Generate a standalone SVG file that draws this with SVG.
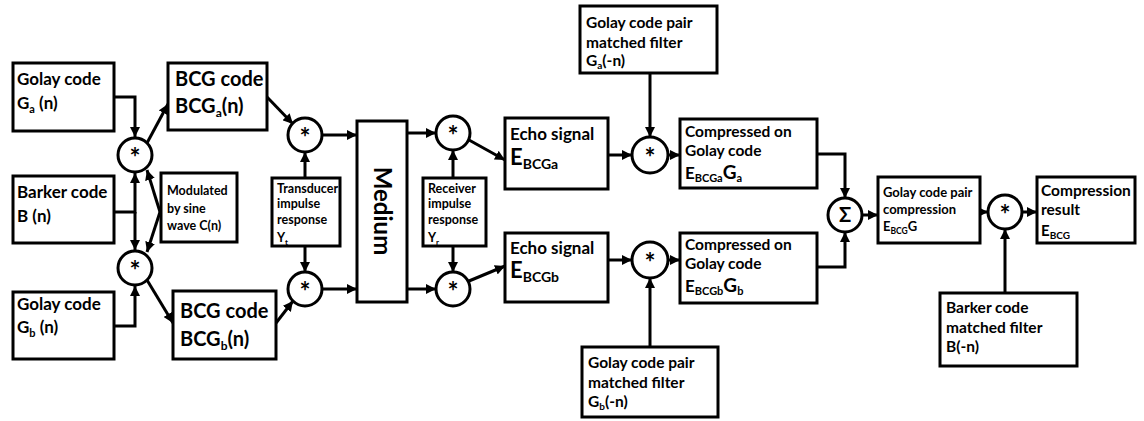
<svg xmlns="http://www.w3.org/2000/svg" width="1144" height="421" viewBox="0 0 1144 421">
  <defs>
    <style>
      .box { fill: #fff; stroke: #000; stroke-width: 3; }
      .op { fill: #fff; stroke: #000; stroke-width: 3; }
      .wire { fill: none; stroke: #000; stroke-width: 3; marker-end: url(#ah); }
      text { font-family: Lato, "Open Sans", "Liberation Sans", sans-serif; font-weight: bold; fill: #000; }
      .l { font-size: 17px; }
      .xl { font-size: 20px; }
      .s { font-size: 12.5px; }
      .m { font-size: 15.5px; }
      .sym { font-size: 26px; text-anchor: middle; }
    </style>
    <marker id="ah" viewBox="0 0 10 10" refX="10" refY="5" markerWidth="10" markerHeight="10" markerUnits="userSpaceOnUse" orient="auto">
      <path d="M0,0 L10,5 L0,10 z" fill="#000"/>
    </marker>
  </defs>
  <rect width="1144" height="421" fill="#fff"/>

  <!-- connectors -->
  <g id="connectors">
    <path class="wire" d="M114,97 H135 V137"/>
    <path class="wire" d="M114,212 H135 V173"/>
    <path class="wire" d="M135,212 V250"/>
    <path class="wire" d="M114,326 H135 V286"/>
    <path class="wire" d="M160,212 L147,170"/>
    <path class="wire" d="M160,212 L147,252"/>
    <path class="wire" d="M147,143 L168,104"/>
    <path class="wire" d="M147,280 L173,323"/>
    <path class="wire" d="M267,97 L293,124"/>
    <path class="wire" d="M276,323 L293,301"/>
    <path class="wire" d="M305,178 V152"/>
    <path class="wire" d="M305,246 V272"/>
    <path class="wire" d="M322,135 H357"/>
    <path class="wire" d="M322,289 H357"/>
    <path class="wire" d="M407,133 H436"/>
    <path class="wire" d="M407,289 H436"/>
    <path class="wire" d="M453,178 V150"/>
    <path class="wire" d="M453,246 V272"/>
    <path class="wire" d="M469,140 L505,160"/>
    <path class="wire" d="M469,281 L505,266"/>
    <path class="wire" d="M608,155 H632"/>
    <path class="wire" d="M650,73 V137"/>
    <path class="wire" d="M668,155 H680"/>
    <path class="wire" d="M608,260 H632"/>
    <path class="wire" d="M650,347 V278"/>
    <path class="wire" d="M668,260 H680"/>
    <path class="wire" d="M817,154 H845 V198"/>
    <path class="wire" d="M817,267 H845 V232"/>
    <path class="wire" d="M862,215 H878"/>
    <path class="wire" d="M980,212 H988"/>
    <path class="wire" d="M1022,212 H1037"/>
    <path class="wire" d="M1005,293 V229"/>
  </g>

  <!-- source codes -->
  <g id="golay-a">
    <rect class="box" x="13" y="63" width="101" height="68"/>
    <text class="l" x="17" y="85">Golay code</text>
    <text class="l" x="17" y="109">G<tspan font-size="11" dy="4">a</tspan><tspan dy="-4"> (n)</tspan></text>
  </g>
  <g id="barker">
    <rect class="box" x="13" y="176" width="101" height="67"/>
    <text class="l" x="17" y="198">Barker code</text>
    <text class="l" x="17" y="222">B (n)</text>
  </g>
  <g id="golay-b">
    <rect class="box" x="13" y="292" width="101" height="67"/>
    <text class="l" x="17" y="310">Golay code</text>
    <text class="l" x="17" y="333">G<tspan font-size="11" dy="4">b</tspan><tspan dy="-4"> (n)</tspan></text>
  </g>
  <g id="modulation">
    <rect class="box" x="161" y="173" width="76" height="69"/>
    <text class="s" x="167" y="195">Modulated</text>
    <text class="s" x="167" y="213">by sine</text>
    <text class="s" x="167" y="230">wave C(n)</text>
  </g>

  <!-- mixers -->
  <g id="mix-a"><circle class="op" cx="135" cy="155" r="17"/><text class="sym" x="135" y="167">*</text></g>
  <g id="mix-b"><circle class="op" cx="135" cy="268" r="17"/><text class="sym" x="135" y="280">*</text></g>

  <!-- BCG codes -->
  <g id="bcg-a">
    <rect class="box" x="168" y="63" width="99" height="67"/>
    <text class="xl" x="175" y="86">BCG code</text>
    <text class="xl" x="175" y="113">BCG<tspan font-size="12" dy="4">a</tspan><tspan dy="-4">(n)</tspan></text>
  </g>
  <g id="bcg-b">
    <rect class="box" x="173" y="291" width="103" height="68"/>
    <text class="xl" x="180" y="318">BCG code</text>
    <text class="xl" x="180" y="346">BCG<tspan font-size="12" dy="4">b</tspan><tspan dy="-4">(n)</tspan></text>
  </g>

  <!-- transmit side -->
  <g id="tx-a"><circle class="op" cx="305" cy="135" r="17"/><text class="sym" x="305" y="147">*</text></g>
  <g id="tx-b"><circle class="op" cx="305" cy="289" r="17"/><text class="sym" x="305" y="301">*</text></g>
  <g id="transducer">
    <rect class="box" x="272" y="178" width="68" height="68"/>
    <text class="s" x="277" y="193">Transducer</text>
    <text class="s" x="277" y="208">impulse</text>
    <text class="s" x="277" y="224">response</text>
    <text class="s" x="277" y="242">Y<tspan font-size="8" dy="3">t</tspan></text>
  </g>

  <g id="medium">
    <rect class="box" x="357" y="121" width="50" height="181"/>
    <text x="382" y="211" font-size="24" text-anchor="middle" transform="rotate(90 382 211)" dy="8">Medium</text>
  </g>

  <!-- receive side -->
  <g id="rx-a"><circle class="op" cx="453" cy="133" r="17"/><text class="sym" x="453" y="145">*</text></g>
  <g id="rx-b"><circle class="op" cx="453" cy="289" r="17"/><text class="sym" x="453" y="301">*</text></g>
  <g id="receiver">
    <rect class="box" x="423" y="178" width="63" height="68"/>
    <text class="s" x="428" y="193">Receiver</text>
    <text class="s" x="428" y="208">impulse</text>
    <text class="s" x="428" y="224">response</text>
    <text class="s" x="428" y="242">Y<tspan font-size="8" dy="3">r</tspan></text>
  </g>

  <g id="echo-a">
    <rect class="box" x="505" y="118" width="103" height="71"/>
    <text class="l" x="510" y="140">Echo signal</text>
    <text x="510" y="165" font-size="22">E<tspan font-size="14" dy="4">BCGa</tspan></text>
  </g>
  <g id="echo-b">
    <rect class="box" x="505" y="233" width="103" height="69"/>
    <text class="l" x="510" y="254">Echo signal</text>
    <text x="510" y="278" font-size="22">E<tspan font-size="14" dy="4">BCGb</tspan></text>
  </g>

  <!-- Golay matched filtering -->
  <g id="filter-a">
    <rect class="box" x="580" y="6" width="137" height="67"/>
    <text class="m" x="586" y="28">Golay code pair</text>
    <text class="m" x="586" y="48">matched filter</text>
    <text class="m" x="586" y="66">G<tspan font-size="10" dy="3">a</tspan><tspan dy="-3">(-n)</tspan></text>
  </g>
  <g id="filter-b">
    <rect class="box" x="582" y="347" width="136" height="70"/>
    <text class="m" x="588" y="368">Golay code pair</text>
    <text class="m" x="588" y="388">matched filter</text>
    <text class="m" x="588" y="407">G<tspan font-size="10" dy="3">b</tspan><tspan dy="-3">(-n)</tspan></text>
  </g>
  <g id="corr-a"><circle class="op" cx="650" cy="155" r="18"/><text class="sym" x="650" y="167">*</text></g>
  <g id="corr-b"><circle class="op" cx="650" cy="260" r="18"/><text class="sym" x="650" y="272">*</text></g>

  <g id="compressed-a">
    <rect class="box" x="680" y="119" width="137" height="69"/>
    <text class="m" x="685" y="137">Compressed on</text>
    <text class="m" x="685" y="156">Golay code</text>
    <text x="685" y="179" font-size="17">E<tspan font-size="11" dy="3">BCGa</tspan><tspan font-size="19" dy="-3">G</tspan><tspan font-size="11" dy="3">a</tspan></text>
  </g>
  <g id="compressed-b">
    <rect class="box" x="680" y="233" width="137" height="70"/>
    <text class="m" x="685" y="250">Compressed on</text>
    <text class="m" x="685" y="269">Golay code</text>
    <text x="685" y="292" font-size="17">E<tspan font-size="11" dy="3">BCGb</tspan><tspan font-size="19" dy="-3">G</tspan><tspan font-size="11" dy="3">b</tspan></text>
  </g>

  <!-- pair summation and Barker compression -->
  <g id="sum"><circle class="op" cx="845" cy="215" r="17"/><text x="845" y="222" font-size="20" text-anchor="middle">Σ</text></g>
  <g id="pair-compression">
    <rect class="box" x="878" y="177" width="102" height="66"/>
    <text x="883" y="197" font-size="13">Golay code pair</text>
    <text x="883" y="214" font-size="13">compression</text>
    <text x="883" y="231" font-size="13">E<tspan font-size="8.5" dy="3">BCG</tspan><tspan dy="-3">G</tspan></text>
  </g>
  <g id="barker-corr"><circle class="op" cx="1005" cy="212" r="17"/><text class="sym" x="1005" y="224">*</text></g>
  <g id="result">
    <rect class="box" x="1037" y="177" width="98" height="66"/>
    <text x="1041" y="196" font-size="15.5">Compression</text>
    <text x="1041" y="215" font-size="15.5">result</text>
    <text x="1041" y="236" font-size="15">E<tspan font-size="10" dy="3">BCG</tspan></text>
  </g>
  <g id="barker-filter">
    <rect class="box" x="940" y="293" width="137" height="73"/>
    <text class="m" x="946" y="313">Barker code</text>
    <text class="m" x="946" y="333">matched filter</text>
    <text class="m" x="946" y="352">B(-n)</text>
  </g>
</svg>
